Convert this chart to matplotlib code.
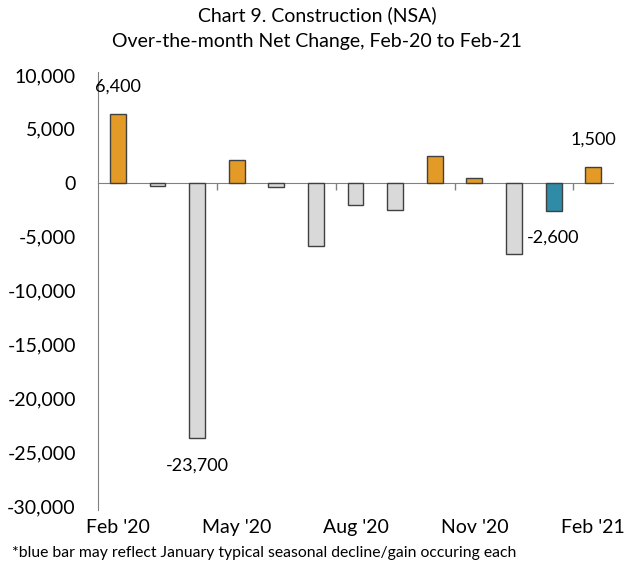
import numpy as np
import matplotlib
matplotlib.use("Agg")
import matplotlib.pyplot as plt
from matplotlib.transforms import blended_transform_factory

plt.rcParams['font.family'] = ['Lato', 'DejaVu Sans']

months = ["Feb '20", "Mar '20", "Apr '20", "May '20", "Jun '20", "Jul '20", "Aug '20",
          "Sep '20", "Oct '20", "Nov '20", "Dec '20", "Jan '21", "Feb '21"]
net_change = [6400, -300, -23700, 2100, -400, -5900, -2100, -2500, 2500, 400, -6600, -2600, 1500]
shown_labels = ["Feb '20", "May '20", "Aug '20", "Nov '20", "Feb '21"]
labelled_bars = ["Feb '20", "Apr '20", "Jan '21", "Feb '21"]
blue_month = "Jan '21"

orange = '#E39A26'
gray = '#D9D9D9'
blue = '#2F8BA6'

colors = []
for m, v in zip(months, net_change):
    if m == blue_month:
        colors.append(blue)
    elif v >= 0:
        colors.append(orange)
    else:
        colors.append(gray)

fig = plt.figure(figsize=(6.34, 5.70), dpi=100)
ax = fig.add_axes([98/634, 64/570, 515/634, 431/570])

x = np.arange(len(months))
ax.bar(x, net_change, width=0.4, color=colors, edgecolor='#404040', linewidth=1.0, zorder=3)

ax.set_xlim(-0.5, len(months) - 0.5)
ax.set_ylim(-30000, 10000)
yt = np.arange(-30000, 10001, 5000)
ax.set_yticks(yt)
ax.set_yticklabels([f"{v:,}" for v in yt], fontsize=14)
ax.tick_params(axis='y', length=0, pad=16)

# category axis crosses at zero, tick marks every 3 months between bars
ax.spines['bottom'].set_position(('data', 0))
ax.spines['bottom'].set_color('#808080')
ax.spines['left'].set_color('#808080')
ax.spines['left'].set_bounds(-30400, 10300)
ax.spines['top'].set_visible(False)
ax.spines['right'].set_visible(False)
ax.set_xticks([2.5, 5.5, 8.5, 11.5])
ax.set_xticklabels([])
ax.tick_params(axis='x', direction='out', length=5, color='#808080', width=1)

trans = blended_transform_factory(ax.transData, ax.transAxes)
for m in shown_labels:
    i = months.index(m)
    ax.text(i, -0.05, m, transform=trans, ha='center', va='center', fontsize=14)

for m in labelled_bars:
    i = months.index(m)
    v = net_change[i]
    off = 19.5 if v > 0 else -19.5
    ax.annotate(f"{v:,}", (i, v), xytext=(0, off), textcoords='offset points',
                ha='center', va='center', fontsize=13)

fig.text(317/634, 1 - 15/570, "Chart 9. Construction (NSA)", ha='center', va='center', fontsize=14)
fig.text(317/634, 1 - 42/570, "Over-the-month Net Change, Feb-20 to Feb-21", ha='center', va='center', fontsize=14)
fig.text(12/634, 1 - 553/570, "*blue bar may reflect January typical seasonal decline/gain occuring each",
         ha='left', va='center', fontsize=11.3)

fig.savefig('out.png', dpi=100)
